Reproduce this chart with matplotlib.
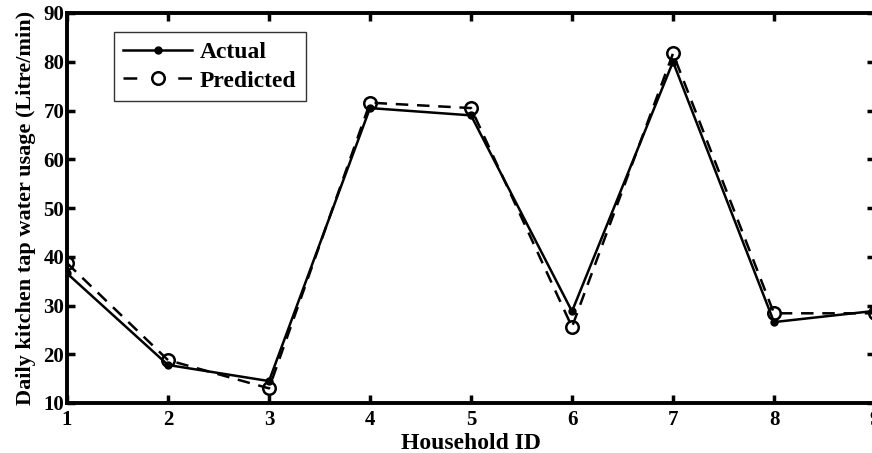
import numpy as np
import matplotlib
matplotlib.use('Agg')
from matplotlib import pyplot as plt

plt.rcParams['font.family'] = 'Liberation Serif'
plt.rcParams['font.weight'] = 'bold'

# datos
household = [1, 2, 3, 4, 5, 6, 7, 8, 9]
actual = [36.6, 17.8, 14.5, 70.5, 69.0, 28.8, 80.0, 26.6, 28.9]
predicted = [38.7, 18.8, 13.0, 71.6, 70.5, 25.6, 81.7, 28.4, 28.4]

fig = plt.figure(figsize=(8.72, 4.53), dpi=100)
ax = fig.add_axes([67/872, 1 - 403/453, 808/872, 390/453])

ax.plot(household, actual, '-', color='black', linewidth=1.8,
        marker='o', markersize=5, label='Actual')
ax.plot(household, predicted, '--', color='black', linewidth=1.8, dashes=(5, 3.5),
        marker='o', markersize=9, markerfacecolor='none', markeredgewidth=1.8,
        label='Predicted')

ax.set_xlim(1, 9)
ax.set_ylim(10, 90)
ax.set_xticks(household)
ax.set_yticks(range(10, 91, 10))
ax.tick_params(direction='in', length=6, width=2.5, top=True, right=True,
               labelsize=15)
ax.tick_params(axis='x', pad=5)
ax.tick_params(axis='y', pad=2)
for s in ax.spines.values():
    s.set_linewidth(2.8)

ax.set_xlabel('Household ID', fontsize=17, fontweight='bold', labelpad=2)
ax.set_ylabel('Daily kitchen tap water usage (Litre/min)', fontsize=16,
              fontweight='bold', labelpad=5)

leg = ax.legend(loc='upper left', bbox_to_anchor=(0.058, 0.951), fancybox=False,
                edgecolor='black', fontsize=17, handlelength=2.9,
                borderpad=0.4, labelspacing=0.3, handletextpad=0.35,
                borderaxespad=0)
leg.get_frame().set_linewidth(1.0)
# guion - circulo - guion en la leyenda
leg.get_lines()[1].set_dashes([5.5, 16.4])

fig.savefig('out.png', dpi=100)
